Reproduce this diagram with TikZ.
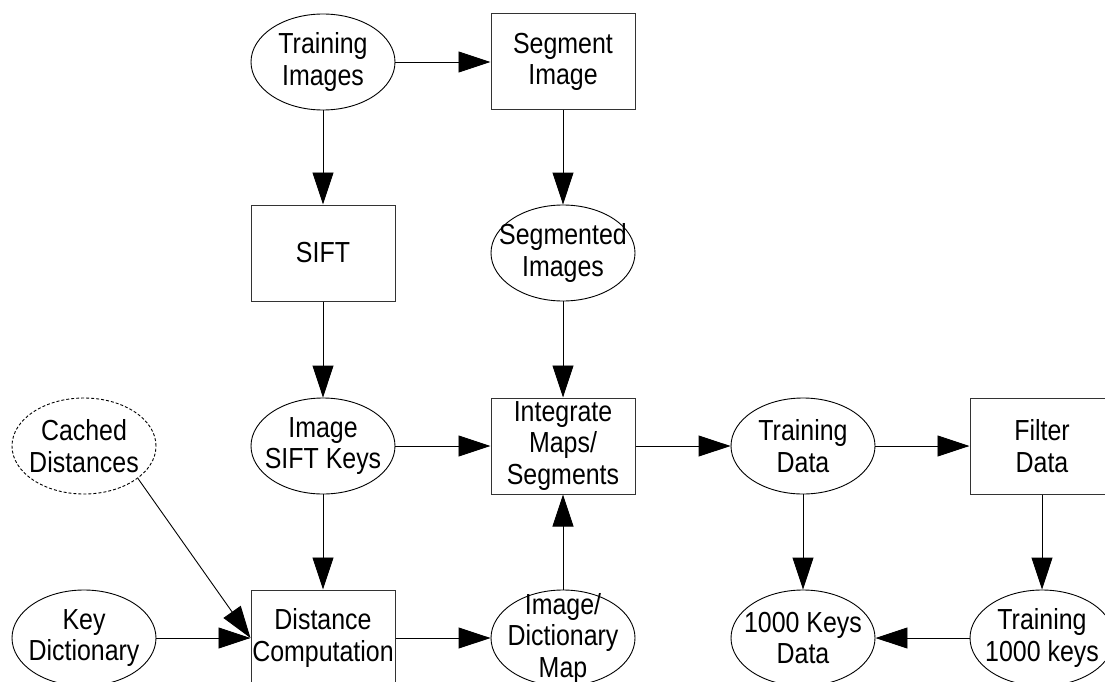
\documentclass[tikz,border=0pt]{standalone}
\usepackage{fontspec}
\setmainfont{Liberation Sans}[FakeStretch=0.86]
\usetikzlibrary{shapes.geometric,arrows.meta}
\tikzset{
  lbl/.style={align=center,font=\fontsize{29}{31.5}\selectfont,inner sep=0pt},
  ell/.style={ellipse,draw=black,line width=0.9pt,minimum width=144pt,minimum height=96pt,inner sep=0pt},
  boxnode/.style={lbl,rectangle,draw=black!80,line width=1pt,minimum width=144pt,minimum height=96pt},
  flow/.style={draw=black,line width=0.9pt,-{Triangle[length=32pt,width=21pt]}}
}
\begin{document}
\begin{tikzpicture}[x=1pt,y=-1pt]
\useasboundingbox (0,0) rectangle (1105,682);
\clip (0,0) rectangle (1105,682);
\fill[white] (0,0) rectangle (1105,682);

% first two rows
\node[ell,label={[lbl]center:{Training\\Images}}] (ti) at (323,62) {};
\node[boxnode] (si)   at (563,62)  {Segment\\Image};
\node[boxnode] (sift) at (323,253) {SIFT};
\node[ell,label={[lbl]center:{Segmented\\Images}}] (sgi) at (563,253) {};

% third row
\node[ell,dashed,dash pattern=on 3pt off 2pt,label={[lbl]center:{Cached\\Distances}}] (cd) at (84,446) {};
\node[ell,label={[lbl]center:{Image\\SIFT Keys}}] (isk) at (323,446) {};
\node[boxnode] (im)   at (563,446) {Integrate\\Maps/\\Segments};
\node[ell,label={[lbl]center:{Training\\Data}}] (td) at (803,446) {};
\node[boxnode] (fd)   at (1042,446) {Filter\\Data};

% bottom row
\node[ell,label={[lbl]center:{Key\\Dictionary}}] (kd) at (84,638) {};
\node[boxnode] (dc)   at (323,638) {Distance\\Computation};
\node[ell,label={[lbl]center:{Image/\\Dictionary\\Map}}] (idm) at (563,638) {};
\node[ell,label={[lbl]center:{1000 Keys\\Data}}] (kkd) at (803,638) {};
\node[ell,label={[lbl]center:{Training\\1000 keys}}] (tk) at (1042,638) {};

% connectors
\draw[flow] (ti) -- (si);
\draw[flow] (ti) -- (sift);
\draw[flow] (si) -- (sgi);
\draw[flow] (sift) -- (isk);
\draw[flow] (sgi) -- (im);
\draw[flow] (isk) -- (im);
\draw[flow] (isk) -- (dc);
\draw[flow] (cd.-31) -- (dc.west);
\draw[flow] (kd) -- (dc);
\draw[flow] (dc) -- (idm);
\draw[flow] (idm) -- (im);
\draw[flow] (im) -- (td);
\draw[flow] (td) -- (fd);
\draw[flow] (td) -- (kkd);
\draw[flow] (fd) -- (tk);
\draw[flow] (tk) -- (kkd);
\end{tikzpicture}
\end{document}
